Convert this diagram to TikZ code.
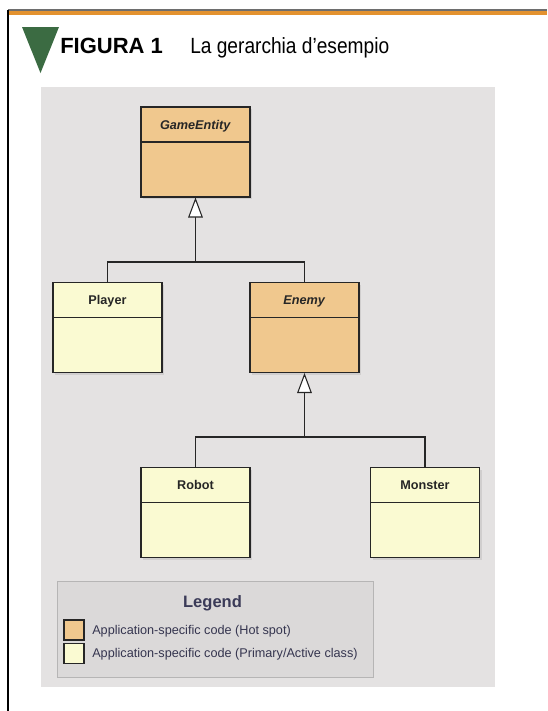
\documentclass[tikz,border=0pt]{standalone}
\usepackage{fontspec}
\setmainfont{Liberation Sans}
\newfontfamily\narrowfont[FakeStretch=0.87]{Liberation Sans}
\usetikzlibrary{arrows.meta,shadows}
\definecolor{hotspot}{HTML}{F0C88E}
\definecolor{active}{HTML}{FAFAD2}
\definecolor{panelgray}{HTML}{E4E2E2}
\definecolor{legendgray}{HTML}{DBD9D9}
\definecolor{legendtext}{HTML}{3B3B58}
\definecolor{rulegray}{HTML}{6E6E6E}
\definecolor{ruleorange}{HTML}{E3922F}
\definecolor{titlegreen}{HTML}{3B6B42}
\tikzset{
  classbox/.style={draw=black!85, line width=0.8pt, inner xsep=0pt, inner ysep=0pt,
    minimum width=81.75pt, text height=16.5pt, text depth=51pt,
    font=\fontsize{9.5pt}{11pt}\selectfont\bfseries, text=black!85,
    drop shadow={shadow xshift=1.5pt, shadow yshift=-1.5pt, opacity=0.2},
    path picture={\draw[line width=0.8pt, black!85]
      ([yshift=-26.25pt]path picture bounding box.north west) --
      ([yshift=-26.25pt]path picture bounding box.north east);}},
  genline/.style={draw=black!85, line width=0.8pt},
  genarrow/.style={genline, -{Triangle[length=15pt, width=11pt, fill=white]}},
  swatch/.style={draw=black!85, line width=0.8pt, minimum size=15pt, inner sep=0pt},
  legitem/.style={inner sep=0pt, anchor=base west, text=legendtext!90!black,
    font=\fontsize{9.5pt}{11pt}\selectfont}
}
\def\hotclass{\node[classbox,fill=hotspot]}
\def\activeclass{\node[classbox,fill=active]}
\begin{document}
\begin{tikzpicture}[x=0.75pt,y=-0.75pt]
\useasboundingbox (0,0) rectangle (547,711);
\fill[rulegray] (8,8.5) rectangle (547,10.5);
\fill[ruleorange] (8,10.5) rectangle (547,15);
\draw[line width=1pt] (8,10) -- (8,711);
\fill[titlegreen] (22,27) -- (59,27) -- (40.5,73) -- cycle;
\node[anchor=base west, inner sep=0pt, font=\fontsize{16.5pt}{18pt}\selectfont\bfseries] (fignum) at (60,53) {FIGURA 1};
\node[anchor=base west, inner sep=0pt, font=\narrowfont\fontsize{16.5pt}{18pt}\selectfont] (figtitle) at (190,53) {La gerarchia d’esempio};
\fill[panelgray] (41,87) rectangle (495,687);
\hotclass (ge) at (195.5,152) {\textit{GameEntity}};
\activeclass (player) at (107.5,327.5) {Player};
\hotclass (enemy) at (304.5,327.5) {\textit{Enemy}};
\activeclass (robot) at (195.5,512.5) {Robot};
\activeclass (monster) at (425,512.5) {Monster};
\coordinate (j1) at (195.5,262);
\coordinate (j2) at (304.5,437);
\draw[genline] (player.north) |- (j1) -| (enemy.north);
\draw[genarrow] (j1) -- (ge.south);
\draw[genline] (robot.north) |- (j2) -| (monster.north);
\draw[genarrow] (j2) -- (enemy.south);
\filldraw[fill=legendgray, draw=panelgray!80!black, line width=0.4pt] (57,581) rectangle (373,677);
\node[anchor=base, inner sep=0pt, text=legendtext, font=\fontsize{12.4pt}{14pt}\selectfont\bfseries] (legtitle) at (212.5,607) {Legend};
\node[swatch, fill=hotspot] (sw1) at (74,630) {};
\node[swatch, fill=active] (sw2) at (74,653.5) {};
\node[legitem] (lab1) at (92,634) {Application-specific code (Hot spot)};
\node[legitem] (lab2) at (92,657.5) {Application-specific code (Primary/Active class)};
\end{tikzpicture}
\end{document}
